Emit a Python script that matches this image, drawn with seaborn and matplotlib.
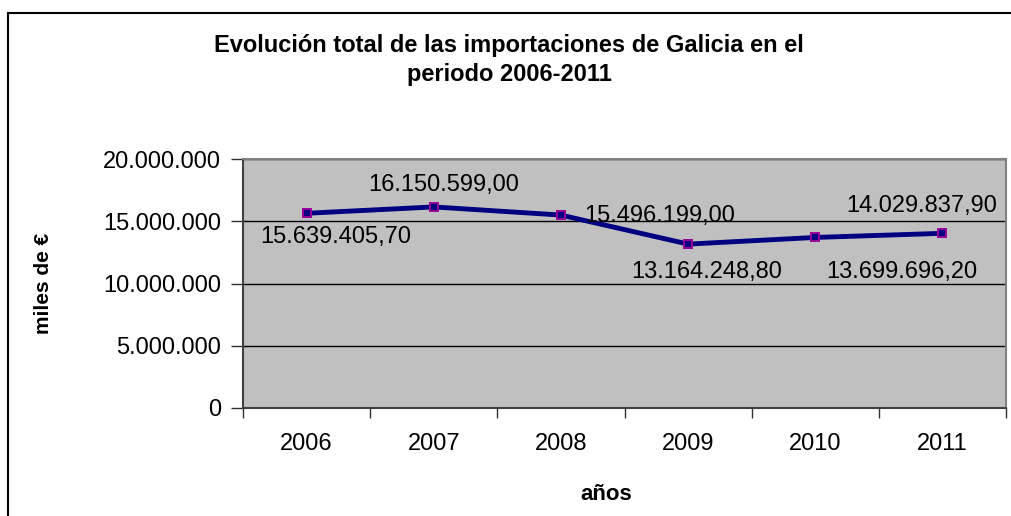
import matplotlib
matplotlib.use("Agg")
import matplotlib.pyplot as plt
import matplotlib.ticker as mticker
from matplotlib.patches import Rectangle
import pandas as pd
import seaborn as sns

# Importaciones de Galicia (miles de euros)
YEARS = ["2006", "2007", "2008", "2009", "2010", "2011"]
IMPORTS = [15639405.70, 16150599.00, 15496199.00, 13164248.80, 13699696.20, 14029837.90]
Y_TICKS = [0, 5000000, 10000000, 15000000, 20000000]

TITLE = "Evolución total de las importaciones de Galicia en el\nperiodo 2006-2011"
X_LABEL = "años"
Y_LABEL = "miles de €"

# left edge of each data label relative to its marker (points), hand placed
LABEL_OFFSETS = [(-33, -17), (-47, 16), (17, -1), (-41, -20), (8, -25), (-69, 20)]


def es_number(v, decimals=0):
    s = f"{v:,.{decimals}f}"
    return s.replace(",", "X").replace(".", ",").replace("X", ".")


sns.set_theme(style="white")
plt.rcParams["font.family"] = ["Liberation Sans", "DejaVu Sans"]
plt.rcParams["text.color"] = "black"
plt.rcParams["axes.labelcolor"] = "black"
plt.rcParams["xtick.color"] = "black"
plt.rcParams["ytick.color"] = "black"

df = pd.DataFrame({"year": YEARS, "value": IMPORTS})

fig = plt.figure(figsize=(10.12, 5.16), dpi=100)
fig.patch.set_facecolor("white")

# outer chart border (cut off on the right and bottom in the original)
fig.patches.append(Rectangle((8 / 1012, -0.05), 1.2, 1 - 13 / 516 + 0.05,
                             transform=fig.transFigure, fill=False,
                             edgecolor="black", linewidth=1.5))

ax = fig.add_axes([243 / 1012, 108 / 516, 763 / 1012, 249 / 516])
ax.set_facecolor("#C0C0C0")

sns.lineplot(data=df, x="year", y="value", ax=ax, color="#000080",
             linewidth=3.5, marker="s", markersize=6, markerfacecolor="#000080",
             markeredgecolor="#990099", markeredgewidth=1.4)

ax.set_xlim(-0.5, len(YEARS) - 0.5)
ax.set_ylim(0, 20000000)
ax.set_yticks(Y_TICKS)
ax.yaxis.set_major_formatter(mticker.FuncFormatter(lambda v, p: es_number(v)))
ax.yaxis.grid(True, color="black", linewidth=1)
ax.xaxis.grid(False)
ax.set_axisbelow(True)

# ticks at category borders, labels at category centres
ax.set_xticks(range(len(YEARS)))
ax.set_xticklabels(YEARS)
ax.set_xticks([i - 0.5 for i in range(len(YEARS) + 1)], minor=True)
ax.tick_params(axis="x", which="major", length=0, pad=18, labelsize=17)
ax.tick_params(axis="x", which="minor", length=7, width=1, color="#303030", bottom=True)
ax.tick_params(axis="y", which="major", length=9, width=1, color="#303030",
               pad=7, labelsize=17, left=True)

for side in ["top", "right"]:
    ax.spines[side].set_color("#808080")
    ax.spines[side].set_linewidth(1.5)
for side in ["left", "bottom"]:
    ax.spines[side].set_color("#404040")
    ax.spines[side].set_linewidth(1.5)

for i, (v, off) in enumerate(zip(IMPORTS, LABEL_OFFSETS)):
    ax.annotate(es_number(v, 2), (i, v), xytext=off, textcoords="offset points",
                ha="left", va="center", fontsize=17, color="black",
                annotation_clip=False)

ax.set_xlabel(X_LABEL, fontsize=16, fontweight="bold")
ax.set_ylabel(Y_LABEL, fontsize=15, fontweight="bold")
ax.xaxis.set_label_coords((606 - 243) / 763, -(484 - 408) / 249)
ax.yaxis.set_label_coords(-(243 - 53) / 763, (408 - 283) / 249)

fig.text(509 / 1012, 1 - 60 / 516, TITLE, ha="center", va="center",
         fontsize=17, fontweight="bold", linespacing=1.3)

fig.savefig("out.png", dpi=100)
